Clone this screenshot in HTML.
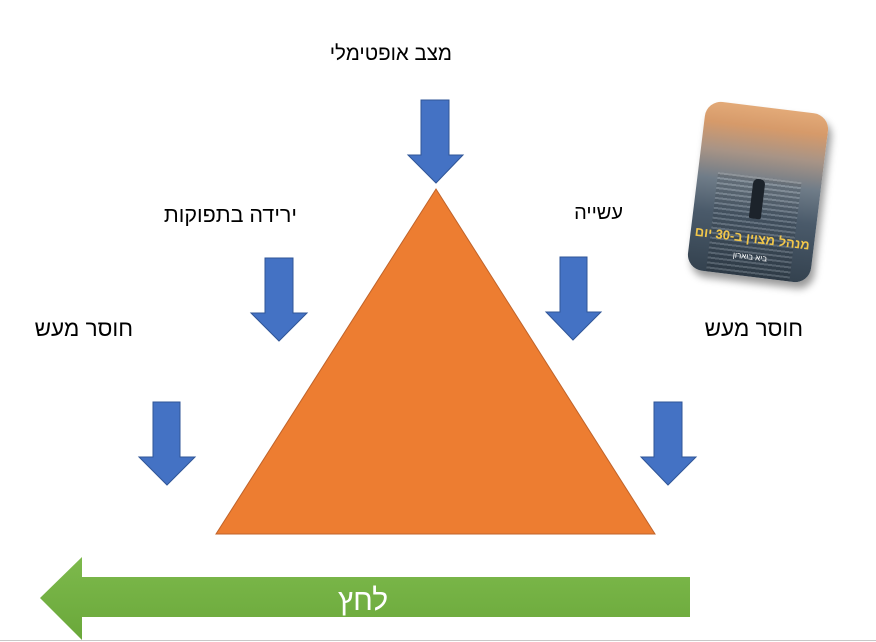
<!DOCTYPE html>
<html><head><meta charset="utf-8">
<style>
body{margin:0;width:876px;height:642px;background:#fff;position:relative;overflow:hidden;font-family:"Liberation Sans","Noto Sans CJK SC",sans-serif;}
.t{position:absolute;font-size:20px;color:#000;white-space:nowrap;direction:rtl;line-height:24px;}
.book{position:absolute;left:696px;top:107px;width:124px;height:170px;border-radius:16px;transform:rotate(7deg);
background:linear-gradient(180deg,#e3aa78 0%,#d69a6a 12%,#a89486 28%,#6f7c88 45%,#4a5a6a 65%,#34424f 100%);box-shadow:4px 6px 8px rgba(0,0,0,.4);overflow:hidden;}
.book .s{position:absolute;left:20px;right:20px;top:70px;bottom:0;background:repeating-linear-gradient(180deg,rgba(255,255,255,.15) 0 2px,rgba(0,0,0,.12) 2px 5px);}
.book .m{position:absolute;left:56px;top:72px;width:12px;height:40px;background:#1c232b;border-radius:5px 5px 2px 2px;}
.book .ti{position:absolute;top:124px;width:100%;text-align:center;color:#f2c74a;font-weight:bold;font-size:13px;direction:rtl;}
.book .au{position:absolute;top:146px;width:100%;text-align:center;color:#fff;font-size:8px;direction:rtl;}
</style></head><body>
<svg width="876" height="642" style="position:absolute;left:0;top:0">
<polygon points="436,189 655,534 216,534" fill="#ED7D31" stroke="#C0632A" stroke-width="1"/>
<g fill="#4472C4" stroke="#2F5597" stroke-width="1">
<polygon points="421,100 449,100 449,155 463,155 436,183 408,155 421,155"/>
<polygon points="265,258 293,258 293,313 307,313 279,341 251,313 265,313"/>
<polygon points="560,257 587,257 587,312 601,312 573,340 546,312 560,312"/>
<polygon points="153,402 180,402 180,457 195,457 167,485 139,457 153,457"/>
<polygon points="654,402 682,402 682,457 696,457 668,485 641,457 654,457"/>
</g>
<defs><linearGradient id="g" x1="0" y1="0" x2="0" y2="1"><stop offset="0" stop-color="#7DB94C"/><stop offset="1" stop-color="#6AA83A"/></linearGradient></defs>
<polygon points="690,577 690,617 82,617 82,640 40,598 82,557 82,577" fill="url(#g)"/>
<line x1="0" y1="640.5" x2="876" y2="640.5" stroke="#c8c8c8" stroke-width="1"/>
</svg>
<div class="t" style="right:424px;top:42px;font-size:20.5px">מצב אופטימלי</div>
<div class="t" style="right:579px;top:203px;font-size:21.5px">ירידה בתפוקות</div>
<div class="t" style="right:253px;top:201px">עשייה</div>
<div class="t" style="right:743px;top:317px;font-size:22.5px">חוסר מעש</div>
<div class="t" style="right:73px;top:317px;font-size:22.5px">חוסר מעש</div>
<div class="t" style="left:338px;top:584px;color:#fff;font-size:30px;line-height:34px">לחץ</div>
<div class="book"><div class="s"></div><div class="m"></div><div class="ti">מנהל מצוין ב-30 יום</div><div class="au">ביא בוארון</div></div>
</body></html>
